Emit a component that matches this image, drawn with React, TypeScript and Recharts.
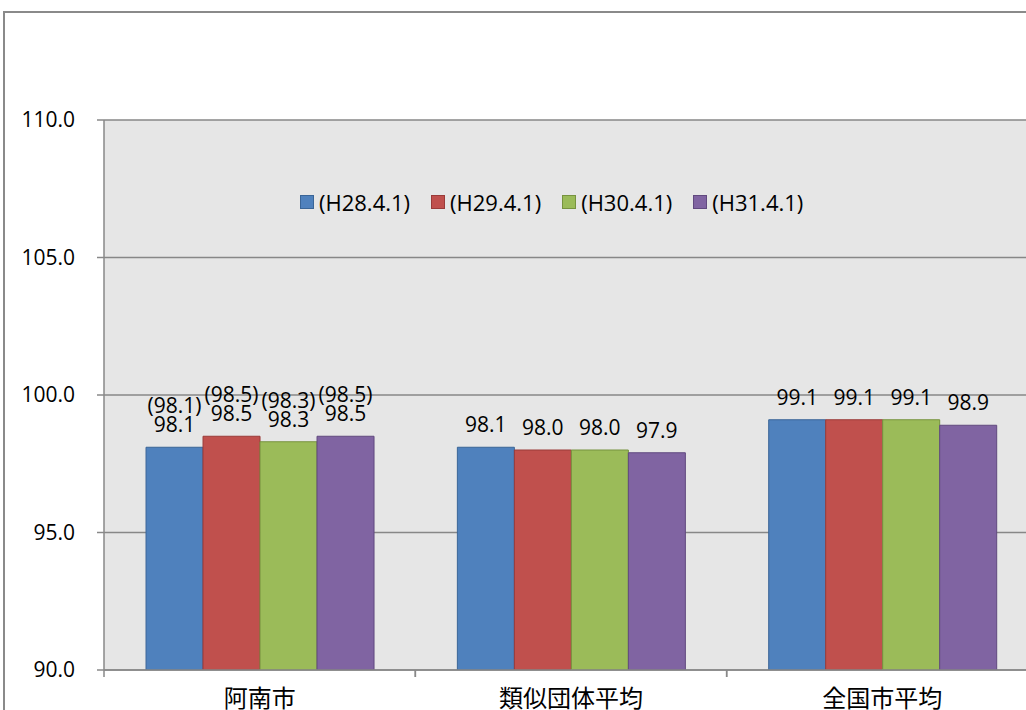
import { BarChart, Bar, XAxis, YAxis, CartesianGrid, LabelList } from 'recharts';

const categories = ['阿南市', '類似団体平均', '全国市平均'];
const seriesNames = ['(H28.4.1)', '(H29.4.1)', '(H30.4.1)', '(H31.4.1)'];
const h28 = [98.1, 98.1, 99.1];
const h29 = [98.5, 98.0, 99.1];
const h30 = [98.3, 98.0, 99.1];
const h31 = [98.5, 97.9, 98.9];
// figures shown in brackets above the 阿南市 bars, one per series
const ananPrev = [98.1, 98.5, 98.3, 98.5];
const yTicks = [90, 95, 100, 105, 110];

const seriesKeys = ['h28', 'h29', 'h30', 'h31'];
const fills = ['#4F81BD', '#C0504D', '#9BBB59', '#8064A2'];
const strokes = ['#3A6597', '#9A3B39', '#77933F', '#61497F'];

const data = categories.map((name, i) => ({
  name,
  h28: h28[i],
  h29: h29[i],
  h30: h30[i],
  h31: h31[i],
}));

const FONT = '"Open Sans", "Noto Sans", sans-serif';
const CJK = '"Noto Sans CJK JP", sans-serif';

const makeLabel = (s: number) => (props: any) => {
  const { x, y, width, value, index } = props;
  const cx = Number(x) + Number(width) / 2;
  const base = Number(y) - 15;
  return (
    <g>
      {index === 0 && (
        <text x={cx} y={base - 19} textAnchor="middle" fontSize={21} fontFamily={FONT} fill="#000">
          {`(${ananPrev[s].toFixed(1)})`}
        </text>
      )}
      <text x={cx} y={base} textAnchor="middle" fontSize={21} fontFamily={FONT} fill="#000">
        {Number(value).toFixed(1)}
      </text>
    </g>
  );
};

const CatTick = (props: any) => {
  const { x, y, payload } = props;
  const half = payload && payload.offset ? payload.offset : 155.75;
  return (
    <g>
      <line x1={x - half} y1={y} x2={x - half} y2={y + 7} stroke="#888" strokeWidth={1.5} />
      <line x1={x + half} y1={y} x2={x + half} y2={y + 7} stroke="#888" strokeWidth={1.5} />
      <text x={x} y={y + 37} textAnchor="middle" fontSize={24} fontFamily={CJK} fill="#000">
        {payload.value}
      </text>
    </g>
  );
};

const LegendBox = () => (
  <div
    style={{
      position: 'absolute',
      left: 300,
      top: 187,
      display: 'flex',
      gap: 21,
      fontFamily: FONT,
      fontSize: 22,
      color: '#000',
      whiteSpace: 'nowrap',
    }}
  >
    {seriesNames.map((n, i) => (
      <div key={n} style={{ display: 'flex', alignItems: 'center' }}>
        <span
          style={{
            display: 'inline-block',
            width: 12,
            height: 12,
            background: fills[i],
            border: `1px solid ${strokes[i]}`,
            marginRight: 5,
          }}
        />
        <span>{n}</span>
      </div>
    ))}
  </div>
);

export default function App() {
  return (
    <div
      style={{
        position: 'absolute',
        left: 0,
        top: 0,
        width: 1026,
        height: 710,
        overflow: 'hidden',
        background: '#fff',
      }}
    >
      <div
        style={{
          position: 'absolute',
          left: 3,
          top: 11,
          width: 1200,
          height: 900,
          border: '2px solid #8a8a8a',
        }}
      />
      <div style={{ position: 'absolute', left: 0, top: 0 }}>
        <BarChart
          width={1050}
          height={720}
          data={data}
          margin={{ top: 120, right: 12, bottom: 0, left: 0 }}
          barCategoryGap="13.5%"
          barGap={0}
        >
          <CartesianGrid vertical={false} fill="#E6E6E6" stroke="#878787" strokeWidth={1.5} />
          <XAxis
            dataKey="name"
            height={50}
            tickLine={false}
            tickSize={0}
            tickMargin={0}
            axisLine={{ stroke: '#888', strokeWidth: 1.5 }}
            tick={<CatTick />}
            interval={0}
          />
          <YAxis
            width={104}
            domain={[90, 110]}
            ticks={yTicks}
            allowDataOverflow
            tickFormatter={(v: number) => v.toFixed(1)}
            tickSize={7}
            tickMargin={22}
            tickLine={{ stroke: '#888', strokeWidth: 1.5 }}
            axisLine={{ stroke: '#888', strokeWidth: 1.5 }}
            tick={{ fontSize: 21, fontFamily: FONT, fill: '#000' }}
          />
          {seriesKeys.map((k, i) => (
            <Bar
              key={k}
              dataKey={k}
              name={seriesNames[i]}
              fill={fills[i]}
              stroke={strokes[i]}
              strokeWidth={1}
              isAnimationActive={false}
            >
              <LabelList dataKey={k} content={makeLabel(i)} />
            </Bar>
          ))}
        </BarChart>
      </div>
      <LegendBox />
    </div>
  );
}
